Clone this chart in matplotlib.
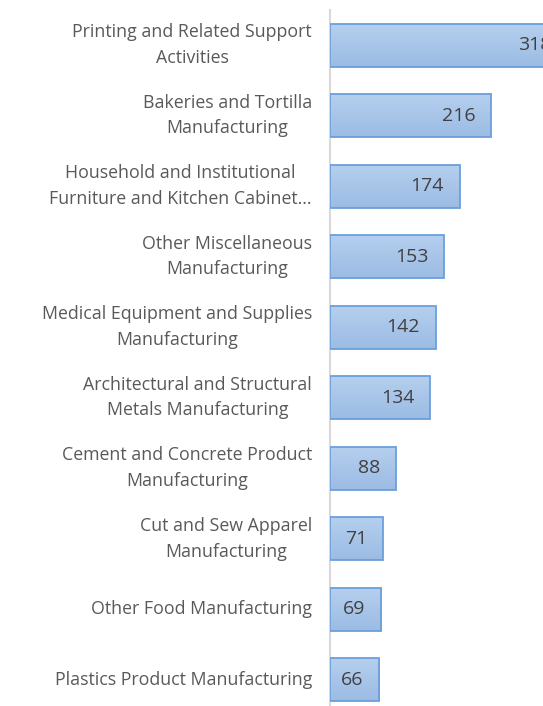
import numpy as np
import matplotlib.pyplot as plt
from matplotlib.colors import LinearSegmentedColormap

# industries, top to bottom as in the chart
categories = [
    'Printing and Related Support\nActivities',
    'Bakeries and Tortilla\nManufacturing',
    'Household and Institutional\nFurniture and Kitchen Cabinet...',
    'Other Miscellaneous\nManufacturing',
    'Medical Equipment and Supplies\nManufacturing',
    'Architectural and Structural\nMetals Manufacturing',
    'Cement and Concrete Product\nManufacturing',
    'Cut and Sew Apparel\nManufacturing',
    'Other Food Manufacturing',
    'Plastics Product Manufacturing',
]
values = [318, 216, 174, 153, 142, 134, 88, 71, 69, 66]

W, H = 543, 706
fig = plt.figure(figsize=(W / 100, H / 100), dpi=100)
plt.rcParams['font.family'] = ['Open Sans', 'DejaVu Sans']

# axes placed in pixel terms: left edge at x=330, top at y=10, running past the bottom
left, top, bottom = 330, 9.75, 715
ax = fig.add_axes([left / W, (H - bottom) / H, (W - left) / W, (bottom - top) / H])

pos = np.arange(len(values))
bars = ax.barh(pos, values, height=0.61, color='none', edgecolor='#6a9fdb',
               linewidth=1.3, zorder=3)

# soft vertical gradient like the Excel fill (lighter on top)
cmap = LinearSegmentedColormap.from_list('fill', ['#9cbce4', '#b5cfee'])
grad = np.linspace(0, 1, 64).reshape(-1, 1)
for b in bars:
    x0, y0 = b.get_x(), b.get_y()
    im = ax.imshow(grad, cmap=cmap, aspect='auto', zorder=2,
                   extent=[x0, x0 + b.get_width(), y0, y0 + b.get_height()])
    im.set_clip_path(b)
ax.set_xlim(0, 286)
ax.set_ylim(len(values) - 0.5, -0.5)

for p, v in zip(pos, values):
    ax.text(v - 21, p, str(v), ha='right', va='center', fontsize=14,
            color='#404040', clip_on=False, zorder=4)

ax.set_yticks(pos)
ax.set_yticklabels(categories, fontsize=12.8, color='#595959', multialignment='center',
                   linespacing=1.55, va='center')
ax.tick_params(axis='y', length=0, pad=13)
ax.set_xticks([])
for s in ['top', 'right', 'bottom']:
    ax.spines[s].set_visible(False)
ax.spines['left'].set_color('#d9d9d9')
ax.spines['left'].set_linewidth(1.5)

fig.savefig('out.png', dpi=100)
